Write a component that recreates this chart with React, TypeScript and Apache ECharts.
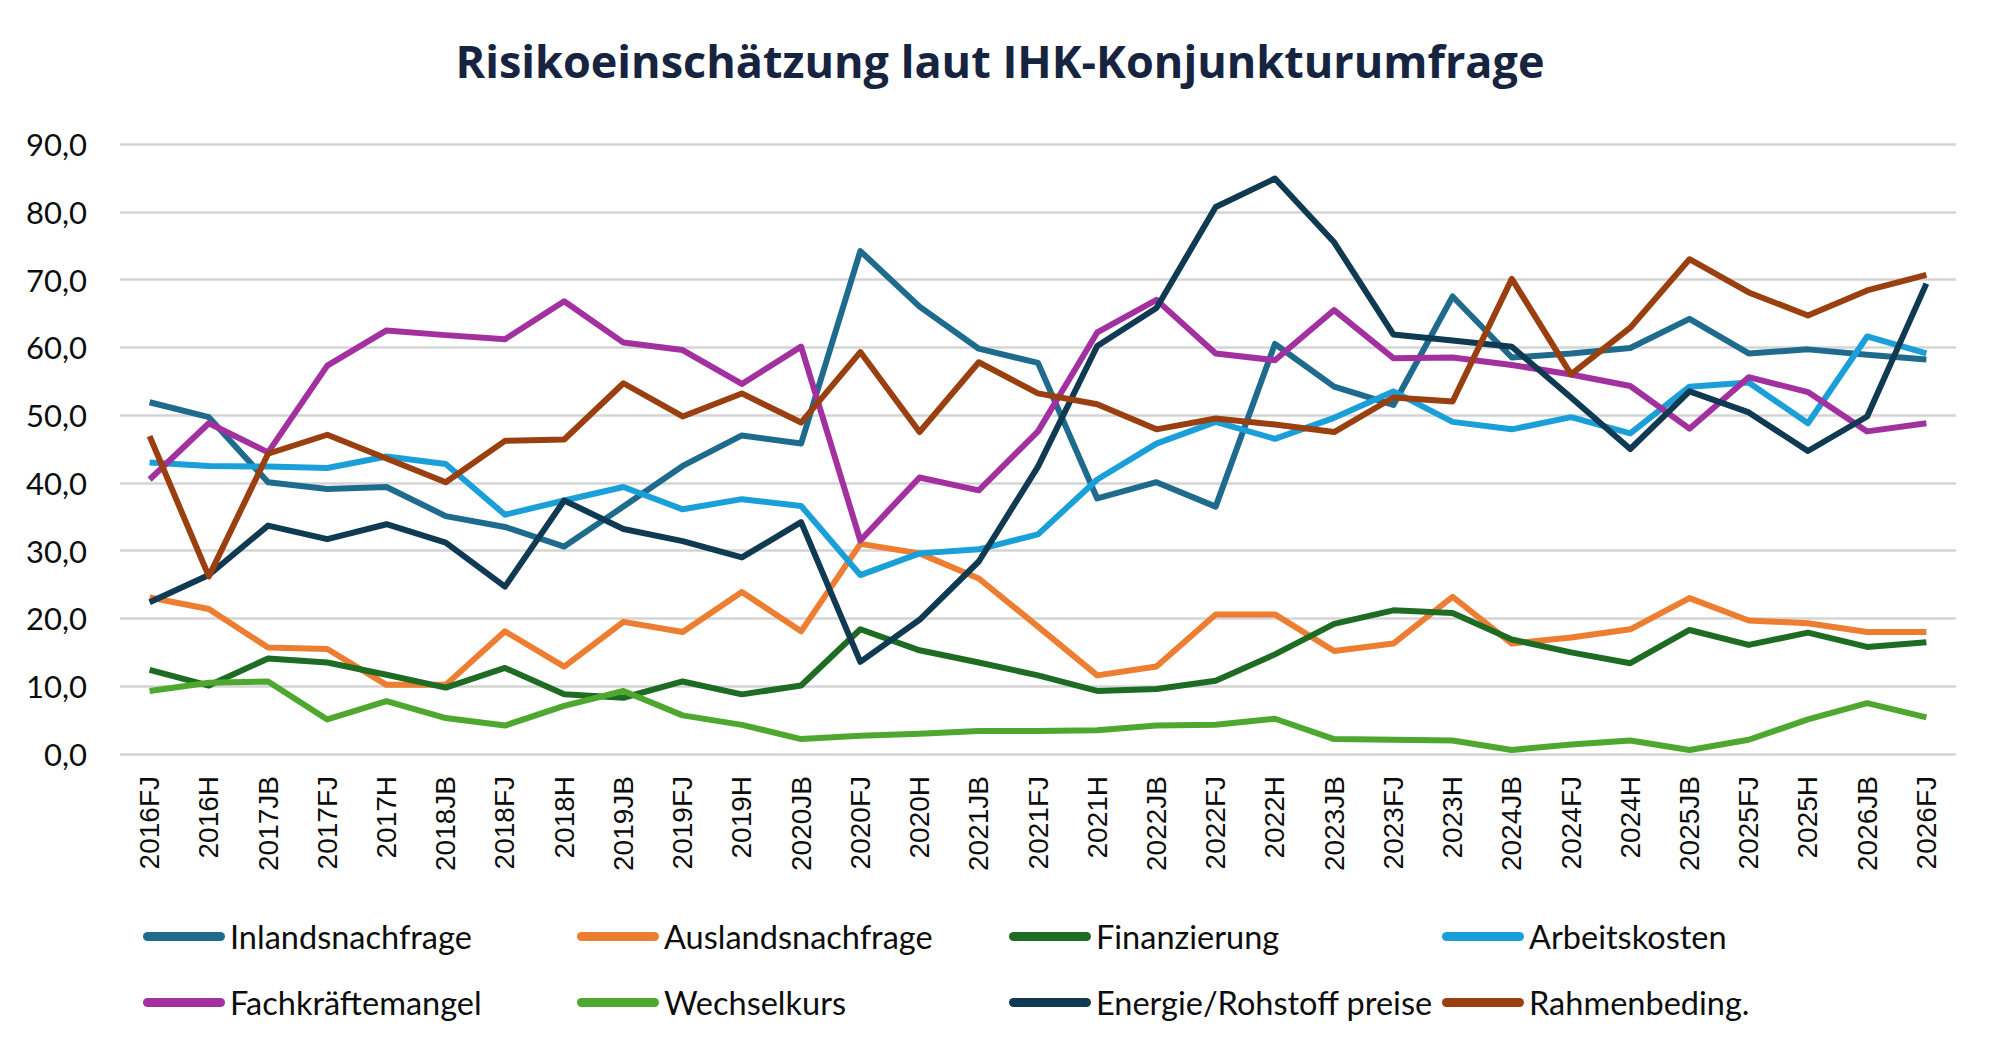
import React, { useEffect, useRef } from "react";
import * as echarts from "echarts";

const categories = [
  "2016FJ", "2016H", "2017JB", "2017FJ", "2017H", "2018JB", "2018FJ", "2018H",
  "2019JB", "2019FJ", "2019H", "2020JB", "2020FJ", "2020H", "2021JB", "2021FJ",
  "2021H", "2022JB", "2022FJ", "2022H", "2023JB", "2023FJ", "2023H", "2024JB",
  "2024FJ", "2024H", "2025JB", "2025FJ", "2025H", "2026JB", "2026FJ",
];

const inlandsnachfrage = [51.9, 49.7, 40.1, 39.1, 39.4, 35.1, 33.5, 30.6, 36.5, 42.5, 47.0, 45.8, 74.2, 66.0, 59.8, 57.7, 37.7, 40.1, 36.5, 60.5, 54.2, 51.5, 67.5, 58.5, 59.1, 59.9, 64.2, 59.1, 59.7, 58.9, 58.2];
const auslandsnachfrage = [23.1, 21.4, 15.7, 15.5, 10.2, 10.2, 18.1, 12.9, 19.5, 18.0, 23.9, 18.1, 31.0, 29.6, 25.9, 18.8, 11.6, 12.9, 20.6, 20.6, 15.2, 16.3, 23.2, 16.3, 17.2, 18.4, 23.0, 19.7, 19.3, 18.0, 18.0];
const finanzierung = [12.4, 10.1, 14.1, 13.5, 11.7, 9.8, 12.7, 8.8, 8.3, 10.7, 8.8, 10.1, 18.4, 15.3, 13.5, 11.6, 9.3, 9.6, 10.8, 14.7, 19.2, 21.2, 20.8, 16.9, 15.0, 13.4, 18.3, 16.1, 17.9, 15.8, 16.5];
const arbeitskosten = [43.0, 42.5, 42.4, 42.2, 43.9, 42.8, 35.3, 37.4, 39.4, 36.1, 37.6, 36.6, 26.4, 29.6, 30.2, 32.4, 40.5, 45.8, 49.0, 46.5, 49.6, 53.5, 49.0, 47.9, 49.7, 47.3, 54.2, 54.8, 48.8, 61.6, 59.1];
const fachkraeftemangel = [40.5, 48.8, 44.5, 57.3, 62.5, 61.8, 61.2, 66.8, 60.7, 59.6, 54.6, 60.1, 31.5, 40.8, 38.9, 47.6, 62.2, 67.0, 59.1, 58.1, 65.5, 58.4, 58.5, 57.4, 56.0, 54.3, 48.0, 55.6, 53.4, 47.6, 48.8];
const wechselkurs = [9.3, 10.5, 10.7, 5.1, 7.8, 5.3, 4.2, 7.1, 9.3, 5.7, 4.3, 2.2, 2.7, 3.0, 3.4, 3.4, 3.5, 4.2, 4.3, 5.2, 2.2, 2.1, 2.0, 0.6, 1.4, 2.0, 0.6, 2.1, 5.1, 7.5, 5.4];
const energieRohstoff = [22.4, 26.4, 33.7, 31.7, 33.9, 31.2, 24.7, 37.4, 33.2, 31.4, 29.0, 34.2, 13.6, 19.8, 28.4, 42.4, 60.2, 65.8, 80.7, 84.9, 75.5, 61.9, 61.0, 60.1, 52.6, 45.0, 53.5, 50.4, 44.7, 49.8, 69.4];
const rahmenbedingungen = [46.9, 26.2, 44.3, 47.1, 43.6, 40.1, 46.2, 46.4, 54.7, 49.8, 53.2, 48.9, 59.3, 47.5, 57.8, 53.2, 51.6, 47.9, 49.5, 48.6, 47.5, 52.6, 52.0, 70.1, 56.0, 62.9, 73.0, 68.1, 64.7, 68.4, 70.7];

const seriesNames = [
  "Inlandsnachfrage", "Auslandsnachfrage", "Finanzierung", "Arbeitskosten",
  "Fachkräftemangel", "Wechselkurs", "Energie/Rohstoff preise", "Rahmenbeding.",
];
const seriesData = [
  inlandsnachfrage, auslandsnachfrage, finanzierung, arbeitskosten,
  fachkraeftemangel, wechselkurs, energieRohstoff, rahmenbedingungen,
];
const seriesColors = [
  "#1F6B8E", "#ED7D31", "#1E6B24", "#1A9FD9",
  "#A3309F", "#4EA72E", "#0F3A52", "#9A3F10",
];

const yTicks = { min: 0, max: 90, interval: 10 };

const titleText = "Risikoeinschätzung laut IHK-Konjunkturumfrage";

const legendLeft = [143, 577, 1009, 1442];
const legendTop = [920, 986];

export default function App() {
  const ref = useRef<HTMLDivElement>(null);

  useEffect(() => {
    if (!ref.current) return;
    const chart = echarts.init(ref.current, null, { renderer: "svg" });

    const capsule = "path://M4.5,0 H77.5 A4.5,4.5 0 0 1 77.5,9 H4.5 A4.5,4.5 0 0 1 4.5,0 Z";

    const legends = seriesNames.map((name, i) => ({
      show: true,
      data: [name],
      left: legendLeft[i % 4],
      top: legendTop[Math.floor(i / 4)],
      padding: 0,
      icon: capsule,
      itemWidth: 82,
      itemHeight: 9,
      selectedMode: false,
      textStyle: {
        fontFamily: "Lato",
        fontSize: 32.5,
        color: "#0D0D0D",
      },
    }));

    const option = {
      animation: false,
      backgroundColor: "#ffffff",
      title: {
        text: titleText,
        left: "center",
        top: 33,
        textStyle: {
          fontFamily: "Open Sans",
          fontWeight: "bold",
          fontSize: 45,
          color: "#17243F",
        },
      },
      legend: legends,
      grid: {
        left: 120,
        right: 44,
        top: 144,
        bottom: 300,
        containLabel: false,
      },
      xAxis: {
        type: "category",
        data: categories,
        boundaryGap: true,
        axisLine: { show: false },
        axisTick: { show: false },
        axisLabel: {
          interval: 0,
          rotate: 90,
          margin: 22,
          fontFamily: "Liberation Sans",
          fontSize: 28,
          color: "#0D0D0D",
        },
      },
      yAxis: {
        type: "value",
        min: yTicks.min,
        max: yTicks.max,
        interval: yTicks.interval,
        axisLine: { show: false },
        axisTick: { show: false },
        axisLabel: {
          margin: 33,
          fontFamily: "Lato",
          fontSize: 31,
          color: "#0D0D0D",
          formatter: (v: number) => v.toFixed(1).replace(".", ","),
        },
        splitLine: { lineStyle: { color: "#D4D4D4", width: 2.5 } },
      },
      series: seriesNames.map((name, i) => ({
        name,
        type: "line",
        data: seriesData[i],
        showSymbol: false,
        symbol: "none",
        color: seriesColors[i],
        itemStyle: { color: seriesColors[i] },
        lineStyle: { width: 6, color: seriesColors[i], join: "round" },
        emphasis: { disabled: true },
      })),
    };

    chart.setOption(option as any);
    return () => chart.dispose();
  }, []);

  return (
    <div
      ref={ref}
      style={{ position: "fixed", left: 0, top: 0, width: 2000, height: 1054, background: "#fff" }}
    />
  );
}
